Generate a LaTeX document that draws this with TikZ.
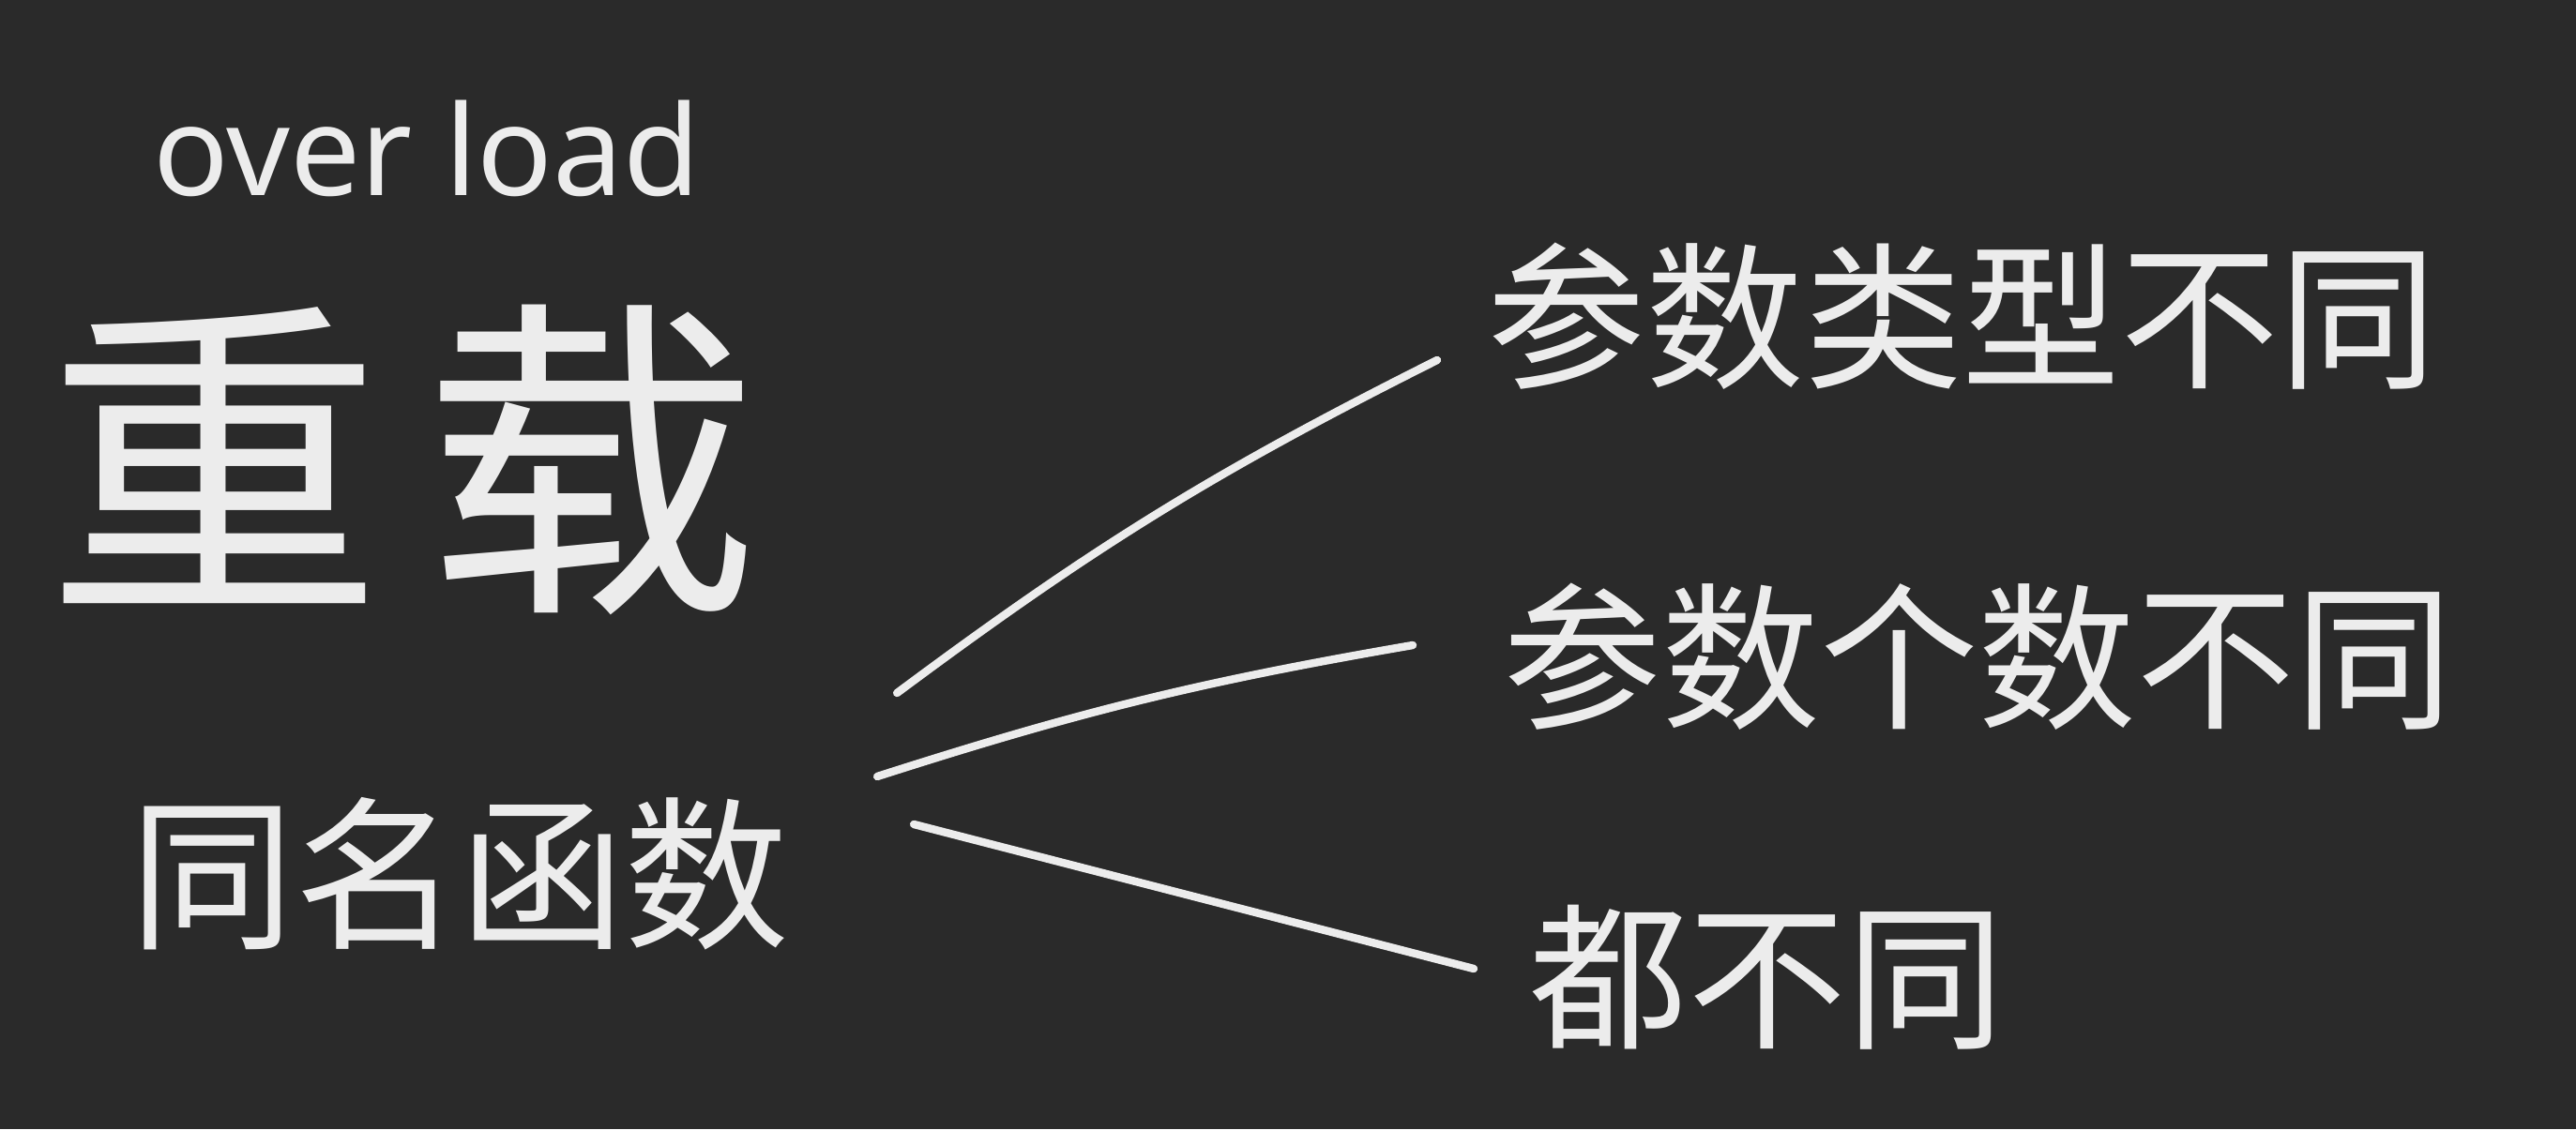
\documentclass[tikz,border=0pt]{standalone}
\usepackage{fontspec}
\newfontfamily\cjk{Noto Sans CJK SC}
\setmainfont{Noto Sans}
\usepackage{tikz}
\usetikzlibrary{positioning}
\definecolor{board}{HTML}{2A2A2A}
\definecolor{chalk}{HTML}{ECECEC}
\tikzset{
  hand/.style={text=chalk,inner sep=0pt},
  title/.style={hand,font=\fontsize{38}{44}\selectfont},
  keyword/.style={hand,font=\cjk\fontsize{102}{116}\selectfont},
  root/.style={hand,font=\cjk\fontsize{50}{60}\selectfont},
  leaf/.style={hand,font=\cjk\fontsize{48}{58}\selectfont,anchor=west},
  branch/.style={draw=chalk,line width=2.4pt,line cap=round}
}

\begin{document}
\begin{tikzpicture}
\fill[board] (0,0) rectangle (27.46,-12.04);
\node[title] (over) at (4.55,-1.58) {over load};
\node[keyword] (chong) at (4.29,-4.90) {重\hspace{0.12em}载};
\node[root] (func) at (4.90,-9.32) {同名函数};
\node[leaf] (type) at (15.85,-3.37) {参数类型不同};
\node[leaf] (count) at (16.02,-7.00) {参数个数不同};
\node[leaf] (both) at (16.30,-10.42) {都不同};
\draw[branch] ([shift={(1.14,1.93)}]func.east) to[bend left=5] ([shift={(-0.53,-0.47)}]type.west);
\draw[branch] ([shift={(0.93,1.04)}]func.east) to[bend left=4] ([shift={(-0.96,0.12)}]count.west);
\draw[branch] ([shift={(1.32,0.53)}]func.east) -- ([shift={(-0.59,0.09)}]both.west);
\end{tikzpicture}
\end{document}
